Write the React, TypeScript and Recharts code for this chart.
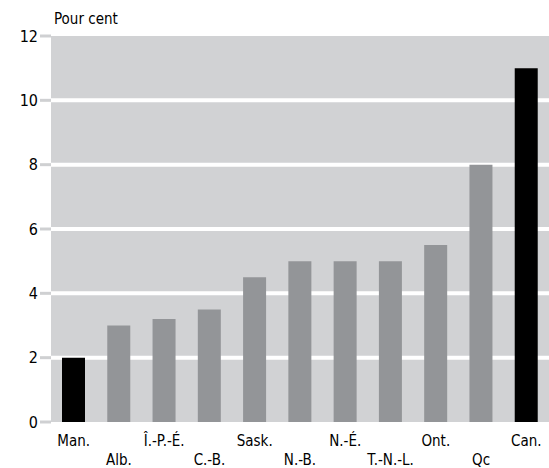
import React from "react";
import { BarChart, Bar, XAxis, YAxis, CartesianGrid, Cell } from "recharts";

const provinces = ["Man.", "Alb.", "Î.-P.-É.", "C.-B.", "Sask.", "N.-B.", "N.-É.", "T.-N.-L.", "Ont.", "Qc", "Can."];
const values = [2, 3, 3.2, 3.5, 4.5, 5, 5, 5, 5.5, 8, 11];
const highlighted = ["Man.", "Can."];
const yTicks = [0, 2, 4, 6, 8, 10, 12];

const data = provinces.map((name, i) => ({ name, value: values[i] }));

const font = "'DejaVu Sans Condensed', 'Liberation Sans Narrow', 'Roboto', sans-serif";

const XTick = (props: any) => {
    const { x, payload, index } = props;
    const low = index % 2 === 1;
    return (
        <text x={x} y={low ? 465 : 446} textAnchor="middle" fontFamily={font} fontSize={15} fill="#000">
            {payload.value}
        </text>
    );
};

export default function App() {
    return (
        <div style={{ position: "absolute", left: 0, top: 0, width: 549, height: 468, background: "#fff" }}>
            <BarChart width={549} height={468} data={data} margin={{ top: 36, right: 0, left: 0, bottom: 0 }}>
                <CartesianGrid
                    vertical={false}
                    horizontalValues={[2, 4, 6, 8, 10]}
                    stroke="#ffffff"
                    strokeWidth={4}
                    fill="#d1d2d4"
                    fillOpacity={1}
                />
                <XAxis dataKey="name" axisLine={false} tickLine={false} height={46} interval={0} tick={<XTick />} />
                <YAxis
                    domain={[0, 12]}
                    ticks={yTicks}
                    width={51}
                    axisLine={false}
                    tickLine={{ stroke: "#cfd0d2", strokeWidth: 3 }}
                    tickSize={11}
                    tick={{ fill: "#000", fontSize: 16, fontFamily: font }}
                />
                <Bar dataKey="value" barSize={23} isAnimationActive={false}>
                    {data.map((d) => (
                        <Cell key={d.name} fill={highlighted.includes(d.name) ? "#000000" : "#939598"} />
                    ))}
                </Bar>
                <text x={54} y={24} fontFamily={font} fontSize={15} fill="#000">Pour cent</text>
            </BarChart>
        </div>
    );
}
